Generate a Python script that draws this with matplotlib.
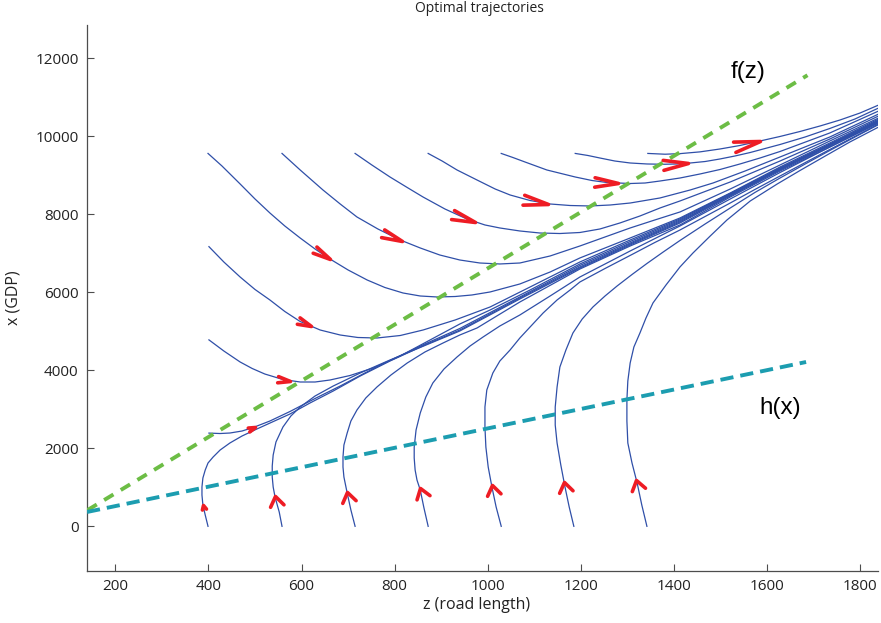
import numpy as np
import matplotlib
matplotlib.use('Agg')
import matplotlib.pyplot as plt
from matplotlib.path import Path
from matplotlib.markers import MarkerStyle
from matplotlib.transforms import Affine2D

# trajectories that start on the top row (x = 9560)
u1_z = [399, 429, 468, 500, 532, 564, 597, 629, 661, 700, 741, 779, 818, 855,
        891, 930, 966, 1005, 1069, 1134, 1198, 1306, 1413, 1521, 1628, 1735, 1840]
u1_x = [9560, 9238, 8777, 8392, 8033, 7700, 7392, 7110, 6854, 6572, 6315, 6123,
        5982, 5905, 5880, 5892, 5931, 6008, 6213, 6520, 6880, 7392, 7905, 8546,
        9212, 9828, 10443]
u2_z = [558, 597, 646, 683, 719, 764, 812, 855, 897, 940, 983, 1026, 1069, 1134,
        1198, 1252, 1306, 1359, 1413, 1521, 1628, 1735, 1840]
u2_x = [9560, 9136, 8623, 8264, 7931, 7623, 7341, 7136, 6956, 6828, 6751, 6726,
        6751, 6931, 7187, 7418, 7649, 7854, 8059, 8648, 9264, 9879, 10470]
u3_z = [715, 751, 790, 827, 861, 908, 955, 994, 1026, 1069, 1112, 1155, 1198,
        1241, 1284, 1327, 1370, 1413, 1521, 1628, 1735, 1840]
u3_x = [9560, 9264, 8956, 8687, 8443, 8136, 7880, 7726, 7649, 7572, 7520, 7507,
        7533, 7623, 7777, 7956, 8161, 8341, 8828, 9366, 9930, 10521]
u4_z = [872, 902, 934, 977, 1016, 1048, 1091, 1134, 1177, 1220, 1263, 1306,
        1370, 1435, 1484, 1553, 1628, 1735, 1840]
u4_x = [9560, 9366, 9136, 8879, 8648, 8495, 8353, 8264, 8225, 8213, 8238, 8289,
        8418, 8623, 8802, 9110, 9469, 9982, 10572]
u5_z = [1029, 1054, 1080, 1127, 1188, 1224, 1256, 1306, 1338, 1370, 1413, 1456,
        1499, 1542, 1585, 1628, 1735, 1840]
u5_x = [9560, 9456, 9341, 9136, 8956, 8866, 8815, 8789, 8802, 8853, 8930, 9033,
        9148, 9290, 9443, 9610, 10085, 10649]
u6_z = [1188, 1215, 1241, 1273, 1306, 1342, 1377, 1407, 1435, 1467, 1499, 1531,
        1564, 1596, 1628, 1682, 1735, 1789, 1840]
u6_x = [9560, 9508, 9443, 9366, 9315, 9290, 9282, 9290, 9315, 9353, 9418, 9494,
        9584, 9687, 9789, 9982, 10200, 10443, 10726]
u7_z = [1344, 1381, 1413, 1456, 1499, 1542, 1585, 1628, 1671, 1714, 1757, 1800, 1840]
u7_x = [9560, 9540, 9555, 9600, 9674, 9764, 9879, 9995, 10123, 10264, 10418,
        10597, 10802]

# trajectories that start on the left column (z = 400)
w1_z = [401, 433, 468, 500, 532, 564, 597, 640, 683, 721, 762, 812, 861, 930,
        1005, 1091, 1198, 1306, 1413, 1521, 1628, 1735, 1840]
w1_x = [7170, 6777, 6392, 6072, 5803, 5508, 5251, 5033, 4905, 4841, 4828, 4892,
        5033, 5290, 5623, 6136, 6777, 7341, 7880, 8533, 9187, 9802, 10418]
w2_z = [401, 433, 468, 494, 521, 560, 597, 629, 661, 704, 754, 812, 876, 940,
        1005, 1091, 1198, 1306, 1413, 1521, 1628, 1735, 1840]
w2_x = [4780, 4495, 4213, 4046, 3905, 3764, 3700, 3700, 3751, 3866, 4059, 4367,
        4777, 5187, 5546, 6059, 6726, 7302, 7854, 8520, 9174, 9789, 10405]
w3_z = [401, 425, 446, 472, 496, 532, 575, 629, 683, 736, 790, 865, 940, 1069,
        1198, 1306, 1413, 1521, 1628, 1735, 1840]
w3_x = [2390, 2379, 2392, 2443, 2533, 2700, 2943, 3277, 3597, 3931, 4251, 4674,
        5072, 5880, 6687, 7264, 7828, 8495, 9161, 9776, 10392]

# trajectories that start on the bottom row (x = 0)
l1_z = [399, 393, 388, 386, 386, 388, 393, 399, 410, 425, 446, 472, 504, 537,
        575, 618, 668, 726, 790, 865, 940, 1069, 1198, 1306, 1413, 1521, 1628,
        1735, 1840]
l1_x = [0, 290, 546, 802, 1008, 1238, 1443, 1623, 1777, 1956, 2136, 2315, 2495,
        2674, 2879, 3161, 3469, 3854, 4238, 4649, 5033, 5854, 6649, 7238, 7802,
        8495, 9148, 9776, 10379]
l2_z = [558, 552, 543, 539, 537, 537, 539, 545, 560, 577, 597, 629, 668, 726,
        790, 865, 940, 1069, 1198, 1306, 1413, 1521, 1628, 1735, 1840]
l2_x = [0, 367, 751, 1008, 1264, 1546, 1828, 2162, 2546, 2828, 3059, 3341, 3597,
        3931, 4264, 4636, 5008, 5828, 6623, 7213, 7777, 8469, 9136, 9751, 10367]
l3_z = [715, 706, 698, 691, 689, 689, 691, 698, 706, 719, 738, 762, 792, 827,
        865, 904, 940, 977, 1069, 1198, 1306, 1413, 1521, 1628, 1735, 1840]
l3_x = [0, 418, 854, 1264, 1520, 1777, 2084, 2392, 2700, 2982, 3290, 3572, 3879,
        4187, 4469, 4700, 4905, 5085, 5751, 6597, 7187, 7726, 8443, 9110, 9725,
        10353]
l4_z = [872, 863, 855, 848, 844, 842, 842, 846, 855, 867, 882, 906, 934, 962,
        990, 1026, 1069, 1134, 1198, 1306, 1413, 1521, 1628, 1735, 1840]
l4_x = [0, 469, 931, 1187, 1443, 1751, 2033, 2469, 2905, 3315, 3674, 4033, 4341,
        4623, 4854, 5136, 5418, 5905, 6392, 7059, 7700, 8392, 9071, 9725, 10341]
l5_z = [1029, 1018, 1009, 1001, 996, 994, 994, 998, 1011, 1026, 1048, 1069, 1091,
        1119, 1149, 1177, 1198, 1252, 1312, 1359, 1413, 1467, 1521, 1574, 1628,
        1735, 1840]
l5_x = [0, 497, 1008, 1520, 2033, 2546, 3059, 3495, 3931, 4238, 4521, 4828, 5110,
        5469, 5803, 6059, 6264, 6610, 6982, 7277, 7597, 7943, 8289, 8636, 8982,
        9661, 10315]
l6_z = [1185, 1175, 1166, 1157, 1149, 1145, 1145, 1149, 1155, 1168, 1183, 1203,
        1226, 1252, 1278, 1310, 1342, 1377, 1413, 1467, 1521, 1574, 1628, 1682,
        1735, 1789, 1840]
l6_x = [0, 497, 1008, 1572, 2136, 2597, 3059, 3572, 4084, 4521, 4956, 5315, 5623,
        5905, 6162, 6456, 6738, 7033, 7328, 7751, 8161, 8559, 8930, 9289, 9636,
        9982, 10302]
l7_z = [1342, 1331, 1321, 1310, 1301, 1299, 1299, 1301, 1306, 1314, 1327, 1340,
        1355, 1383, 1413, 1441, 1478, 1514, 1564, 1622, 1671, 1729, 1778, 1840]
l7_x = [0, 546, 1110, 1623, 2136, 2700, 3239, 3726, 4187, 4597, 4956, 5341, 5726,
        6187, 6649, 7008, 7443, 7854, 8341, 8777, 9123, 9520, 9853, 10238]

# the two curves
f_z = [140, 1687]
f_x = [415, 11565]
h_z = [139, 1684]
h_x = [367, 4213]

# direction markers: which trajectory, and where on it
arrow_on = ['u1', 'u2', 'u3', 'u4', 'u5', 'u6', 'u7', 'w1', 'w2', 'w3',
            'l1', 'l2', 'l3', 'l4', 'l5', 'l6', 'l7']
arrow_z = [661, 815, 973, 1130, 1280, 1431, 1585, 622, 575, 500,
           388, 543, 698, 855, 1009, 1162, 1321]
arrow_x = [6846, 7315, 7795, 8297, 8820, 9307, 9820, 5205, 3751, 2554,
           546, 777, 879, 982, 1059, 1136, 1187]

curves = {
    'u1': (u1_z, u1_x), 'u2': (u2_z, u2_x), 'u3': (u3_z, u3_x),
    'u4': (u4_z, u4_x), 'u5': (u5_z, u5_x), 'u6': (u6_z, u6_x),
    'u7': (u7_z, u7_x), 'w1': (w1_z, w1_x), 'w2': (w2_z, w2_x),
    'w3': (w3_z, w3_x), 'l1': (l1_z, l1_x), 'l2': (l2_z, l2_x),
    'l3': (l3_z, l3_x), 'l4': (l4_z, l4_x), 'l5': (l5_z, l5_x),
    'l6': (l6_z, l6_x), 'l7': (l7_z, l7_x),
}

# marker look (size in points, half opening of the chevron)
arrow_size = [26, 30, 34, 36, 34, 36, 38, 20, 18, 10, 6, 14, 14, 14, 14, 14, 14]
arrow_open = [0.2, 0.2, 0.2, 0.2, 0.2, 0.2, 0.2, 0.25, 0.25, 0.3, 0.5,
              0.7, 0.7, 0.7, 0.7, 0.7, 0.7]

BLUE = '#2f4fa8'
RED = '#ee1c24'
GREEN = '#6cbd45'
TEAL = '#1c9db0'
AXIS = '#4d4d4d'

W, H = 881, 623


def snap_to_curve(ax, z, x, pz, px):
    """Nearest point on the polyline (display coords) and its heading."""
    pts = ax.transData.transform(np.column_stack([z, x]))
    p = ax.transData.transform((pz, px))
    best = None
    for a, b in zip(pts[:-1], pts[1:]):
        d = b - a
        t = np.clip(np.dot(p - a, d) / np.dot(d, d), 0, 1)
        q = a + t * d
        dist = np.hypot(*(p - q))
        if best is None or dist < best[0]:
            best = (dist, q, np.degrees(np.arctan2(d[1], d[0])))
    _, q, ang = best
    return ax.transData.inverted().transform(q), ang


def chevron(angle, half_open):
    path = Path([(-1, half_open), (0, 0), (-1, -half_open)],
                [Path.MOVETO, Path.LINETO, Path.LINETO])
    return MarkerStyle(path, fillstyle='none',
                       transform=Affine2D().rotate_deg(angle),
                       joinstyle='round', capstyle='round')


fig = plt.figure(figsize=(W / 100, H / 100), dpi=100)
ax = fig.add_axes([87 / W, 1 - 570.7 / H, (878 - 87) / W, (570.7 - 25) / H])
ax.set_xlim(139, 1838.5)
ax.set_ylim(-1138, 12853)

for z, x in curves.values():
    ax.plot(z, x, color=BLUE, lw=0.9, solid_joinstyle='round', zorder=2)

ax.plot(f_z, f_x, color=GREEN, lw=2.8, dashes=(2.8, 2.2),
        dash_capstyle='butt', zorder=3)
ax.plot(h_z, h_x, color=TEAL, lw=2.8, dashes=(3.4, 1.8),
        dash_capstyle='butt', zorder=3)

for name, pz, px, ms, op in zip(arrow_on, arrow_z, arrow_x,
                                arrow_size, arrow_open):
    z, x = curves[name]
    (qz, qx), ang = snap_to_curve(ax, z, x, pz, px)
    ax.plot([qz], [qx], linestyle='none', marker=chevron(ang, op),
            markersize=ms, markeredgewidth=2.6, markeredgecolor=RED,
            markerfacecolor='none', zorder=4)

ax.text(1559, 11648, 'f(z)', fontsize=17.5, family='Liberation Sans',
        ha='center', va='center')
ax.text(1628, 3033, 'h(x)', fontsize=17.5, family='Liberation Sans',
        ha='center', va='center')

ax.set_xticks(np.arange(200, 1801, 200))
ax.set_yticks(np.arange(0, 12001, 2000))
ax.tick_params(direction='in', length=5, width=0.8, color=AXIS,
               labelsize=11, labelcolor='#222222', pad=6)
for lab in ax.get_xticklabels() + ax.get_yticklabels():
    lab.set_family('Open Sans')
for side in ('top', 'right'):
    ax.spines[side].set_visible(False)
for side in ('left', 'bottom'):
    ax.spines[side].set_color(AXIS)
    ax.spines[side].set_linewidth(0.9)

fig.text(479 / W, 1 - 9 / H, 'Optimal trajectories', fontsize=10,
         family='Open Sans', ha='center', va='center', color='#222222')
fig.text(477 / W, 1 - 605 / H, 'z (road length)', fontsize=11.5,
         family='Open Sans', ha='center', va='center', color='#222222')
fig.text(13 / W, 1 - 298 / H, 'x (GDP)', fontsize=11.5, rotation=90,
         family='Open Sans', ha='center', va='center', color='#222222')

fig.savefig('out.png', dpi=100)
